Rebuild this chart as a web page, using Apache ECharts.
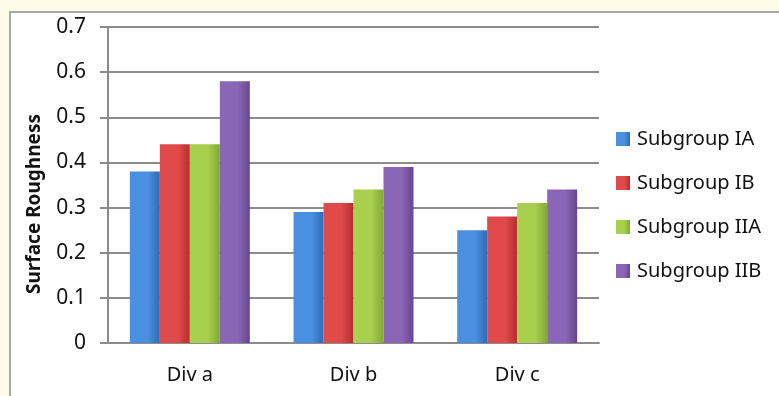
<!DOCTYPE html>
<html>
<head>
<meta charset="utf-8">
<script src="https://cdn.jsdelivr.net/npm/echarts@6/dist/echarts.min.js"></script>
<style>
  html, body { margin: 0; padding: 0; background: #fefbe8; }
  #frame {
    position: absolute; left: 9px; top: 11px; width: 800px; height: 400px;
    background: #fff; border-left: 2px solid #a8a8a8; border-top: 2px solid #a8a8a8;
  }
  #chart { position: absolute; left: 0; top: 0; width: 779px; height: 396px; }
</style>
</head>
<body>
<div id="frame"></div>
<div id="chart"></div>
<script>
// Surface roughness per division and subgroup
const categories = ["Div a", "Div b", "Div c"];
const subgroups = ["Subgroup IA", "Subgroup IB", "Subgroup IIA", "Subgroup IIB"];
const subgroupIA = [0.38, 0.29, 0.25];
const subgroupIB = [0.44, 0.31, 0.28];
const subgroupIIA = [0.44, 0.34, 0.31];
const subgroupIIB = [0.58, 0.39, 0.34];

const values = [subgroupIA, subgroupIB, subgroupIIA, subgroupIIB];
// [light, dark] per series
const colors = [
  ["#4b8fe0", "#2f6bb8"],
  ["#e04a4a", "#b52e2e"],
  ["#a8cf4e", "#82a834"],
  ["#8c66b6", "#664690"],
];

const chart = echarts.init(document.getElementById("chart"));
const font = "Noto Sans";

const option = {
  backgroundColor: "transparent",
  textStyle: { fontFamily: font },
  legend: {
    orient: "vertical",
    left: 611,
    top: 124,
    itemWidth: 14,
    itemHeight: 14,
    itemGap: 24,
    icon: "rect",
    textStyle: { fontSize: 20, color: "#111", fontFamily: font, padding: [0, 0, 0, 2] },
    data: subgroups,
  },
  grid: { left: 108, top: 27, right: 180, bottom: 53 },
  xAxis: {
    type: "category",
    data: categories,
    axisLine: { lineStyle: { color: "#8c8c8c", width: 2 } },
    axisTick: { show: false },
    axisLabel: { fontSize: 20, color: "#111", margin: 22 },
  },
  yAxis: {
    type: "value",
    min: 0,
    max: 0.7,
    interval: 0.1,
    name: "Surface Roughness",
    nameLocation: "middle",
    nameGap: 64,
    nameTextStyle: { fontSize: 19, fontWeight: "bold", color: "#111", padding: [0, 0, 0, -38] },
    axisLine: { show: true, lineStyle: { color: "#8c8c8c", width: 2 } },
    axisTick: { show: true, length: 8, lineStyle: { color: "#8c8c8c", width: 2 } },
    axisLabel: {
      fontSize: 21, color: "#111", margin: 22,
      formatter: (v) => (v === 0 ? "0" : v.toFixed(1)),
    },
    splitLine: { lineStyle: { color: "#8c8c8c", width: 2 } },
  },
  series: subgroups.map((name, i) => ({
    name,
    type: "bar",
    data: values[i],
    barGap: "0%",
    barCategoryGap: "26.7%",
    itemStyle: {
      color: new echarts.graphic.LinearGradient(0, 0, 1, 0, [
        { offset: 0, color: colors[i][0] },
        { offset: 0.6, color: colors[i][0] },
        { offset: 1, color: colors[i][1] },
      ]),
      shadowColor: "rgba(0,0,0,0.25)",
      shadowBlur: 4,
      shadowOffsetX: 1,
      shadowOffsetY: 1,
    },
  })),
};

chart.setOption(option);
</script>
</body>
</html>
